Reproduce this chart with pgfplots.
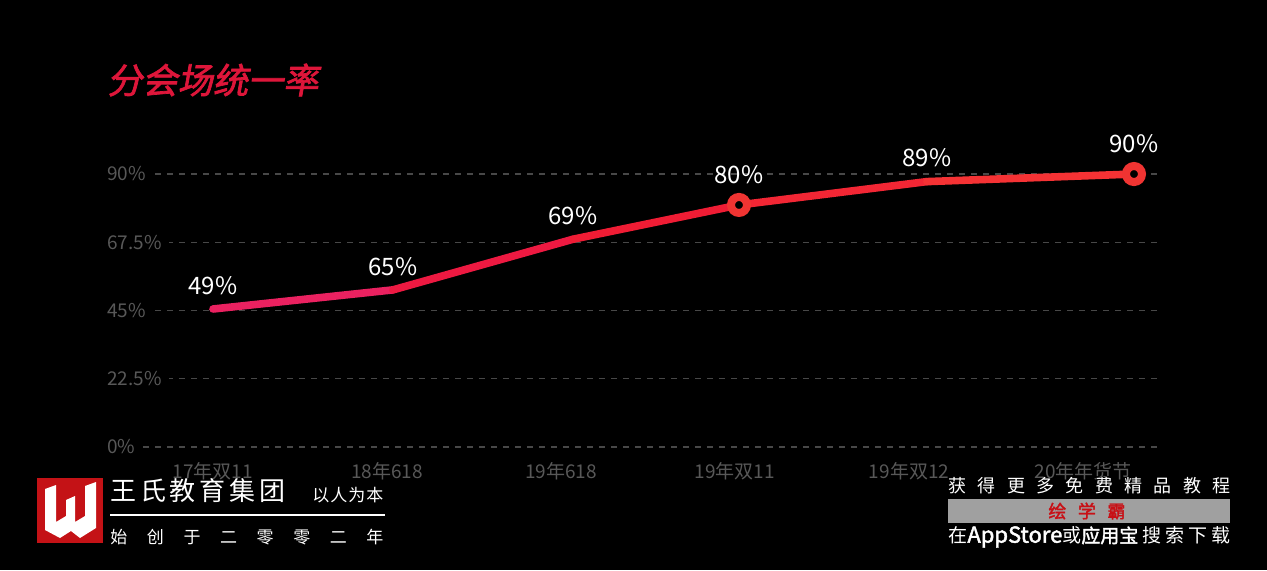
\documentclass[border=0pt]{standalone}
\usepackage{fontspec}
\setmainfont{Noto Sans CJK SC}
\newfontfamily\titlefont[FakeSlant=0.18,FakeBold=2]{Noto Sans CJK SC}
\newfontfamily\boldcjk[FakeBold=2]{Noto Sans CJK SC}
\usepackage{pgfplots}
\pgfplotsset{compat=1.18}

\definecolor{tickgray}{RGB}{88,88,88}
\definecolor{gridgray}{RGB}{72,72,72}
\definecolor{titlered}{RGB}{222,22,58}
\definecolor{markred}{RGB}{240,52,50}
\definecolor{logored}{RGB}{196,18,22}
\definecolor{boxgray}{RGB}{160,160,160}
\definecolor{textred}{RGB}{200,16,22}

\begin{document}
\begin{tikzpicture}[x=0.5pt,y=0.5pt]
\fill[black] (0,0) rectangle (1267,570);
\begin{axis}[
    at={(53.5pt,61.5pt)}, anchor=south west,
    scale only axis, width=527.5pt, height=136.5pt,
    xmin=-0.609, xmax=5.454, ymin=0, ymax=90,
    axis line style={draw=none}, tick style={draw=none},
    ymajorgrids, grid style={dashed, gridgray, line width=0.6pt},
    xtick={0,1,2,3,4,5},
    xticklabels={17年双11,18年618,19年618,19年双11,19年双12,20年年货节},
    ytick={0,22.5,45,67.5,90},
    yticklabels={0\%,22.5\%,45\%,67.5\%,90\%},
    ticklabel style={font=\fontsize{9.5pt}{10pt}\selectfont, text=tickgray},
    yticklabel style={anchor=west, fill=black, inner xsep=3.5pt, xshift=-3.5pt},
    xticklabel style={yshift=-4pt},
    clip=false,
    colormap={redpink}{rgb255(0cm)=(233,37,112) rgb255(2cm)=(238,22,52) rgb255(5.3cm)=(246,56,52)},
]
% main line
\addplot[mesh, point meta=x, line width=3.8pt, line cap=round, line join=round]
  coordinates {(0,45.5) (1.034,51.8) (2.069,68.5) (3.023,79.8) (4.103,87.5) (5.293,90)};
% ring markers
\addplot[only marks, mark=*, mark size=4pt, mark options={draw=markred, fill=black, line width=4pt}]
  coordinates {(3.023,79.8) (5.293,90)};
% value labels
\addplot[draw=none, mark=none, nodes near coords, point meta=explicit symbolic,
  nodes near coords style={font=\fontsize{12pt}{12pt}\selectfont, text=white, anchor=south, inner sep=0pt, yshift=7pt}]
  coordinates {(0,45.5)[49\%] (1.034,51.8)[65\%] (2.069,68.5)[69\%] (4.103,87.5)[89\%]};
\addplot[draw=none, mark=none, nodes near coords, point meta=explicit symbolic,
  nodes near coords style={font=\fontsize{12pt}{12pt}\selectfont, text=white, anchor=south, inner sep=0pt, yshift=10.5pt}]
  coordinates {(3.023,79.8)[80\%] (5.293,90)[90\%]};
\end{axis}

\begin{scope}[shift={(0,570)}, yscale=-1]
% title
\node[anchor=west, inner sep=0pt, text=titlered, font=\titlefont\fontsize{17.6pt}{18pt}\selectfont] at (107,80) {分会场统一率};
% logo bottom left
\fill[logored] (37,478) rectangle (103,543);
\fill[white] (45,489) -- (56,485) -- (56,522) -- (66,516) -- (66,500) -- (75,496) -- (75,522)
  -- (85,516) -- (85,486) -- (96,482) -- (96,528) -- (80,538) -- (71,531) -- (60,538) -- (45,530) -- cycle;
\node[anchor=west, inner sep=0pt, text=white, font=\fontsize{13pt}{13pt}\selectfont] at (110,491)
  {\makebox[87.5pt]{王\hfill 氏\hfill 教\hfill 育\hfill 集\hfill 团}};
\node[anchor=west, inner sep=0pt, text=white, font=\fontsize{8.5pt}{9pt}\selectfont] at (312,495)
  {\makebox[35.5pt]{以\hfill 人\hfill 为\hfill 本}};
\draw[white, line width=1pt] (110,515) -- (385,515);
\node[anchor=west, inner sep=0pt, text=white, font=\fontsize{8.5pt}{9pt}\selectfont] at (110,537)
  {\makebox[136.5pt]{始\hfill 创\hfill 于\hfill 二\hfill 零\hfill 零\hfill 二\hfill 年}};
% bottom right
\node[anchor=west, inner sep=0pt, text=white, font=\fontsize{9pt}{9pt}\selectfont] at (948,486)
  {\makebox[141pt]{获\hfill 得\hfill 更\hfill 多\hfill 免\hfill 费\hfill 精\hfill 品\hfill 教\hfill 程}};
\fill[boxgray] (948,499) rectangle (1230,523);
\node[anchor=west, inner sep=0pt, text=textred, font=\boldcjk\fontsize{9pt}{9pt}\selectfont] at (1048,511)
  {\makebox[38.5pt]{绘\hfill 学\hfill 霸}};
\node[anchor=west, inner sep=0pt, text=white, font=\fontsize{9.5pt}{10pt}\selectfont] at (948,537)
  {\makebox[141pt]{在{\boldcjk\fontsize{11pt}{11pt}\selectfont AppStore}或{\boldcjk 应用宝}\hfill 搜\hfill 索\hfill 下\hfill 载}};
\end{scope}
\pgfresetboundingbox
\useasboundingbox (0,0) rectangle (1267,570);
\end{tikzpicture}
\end{document}
